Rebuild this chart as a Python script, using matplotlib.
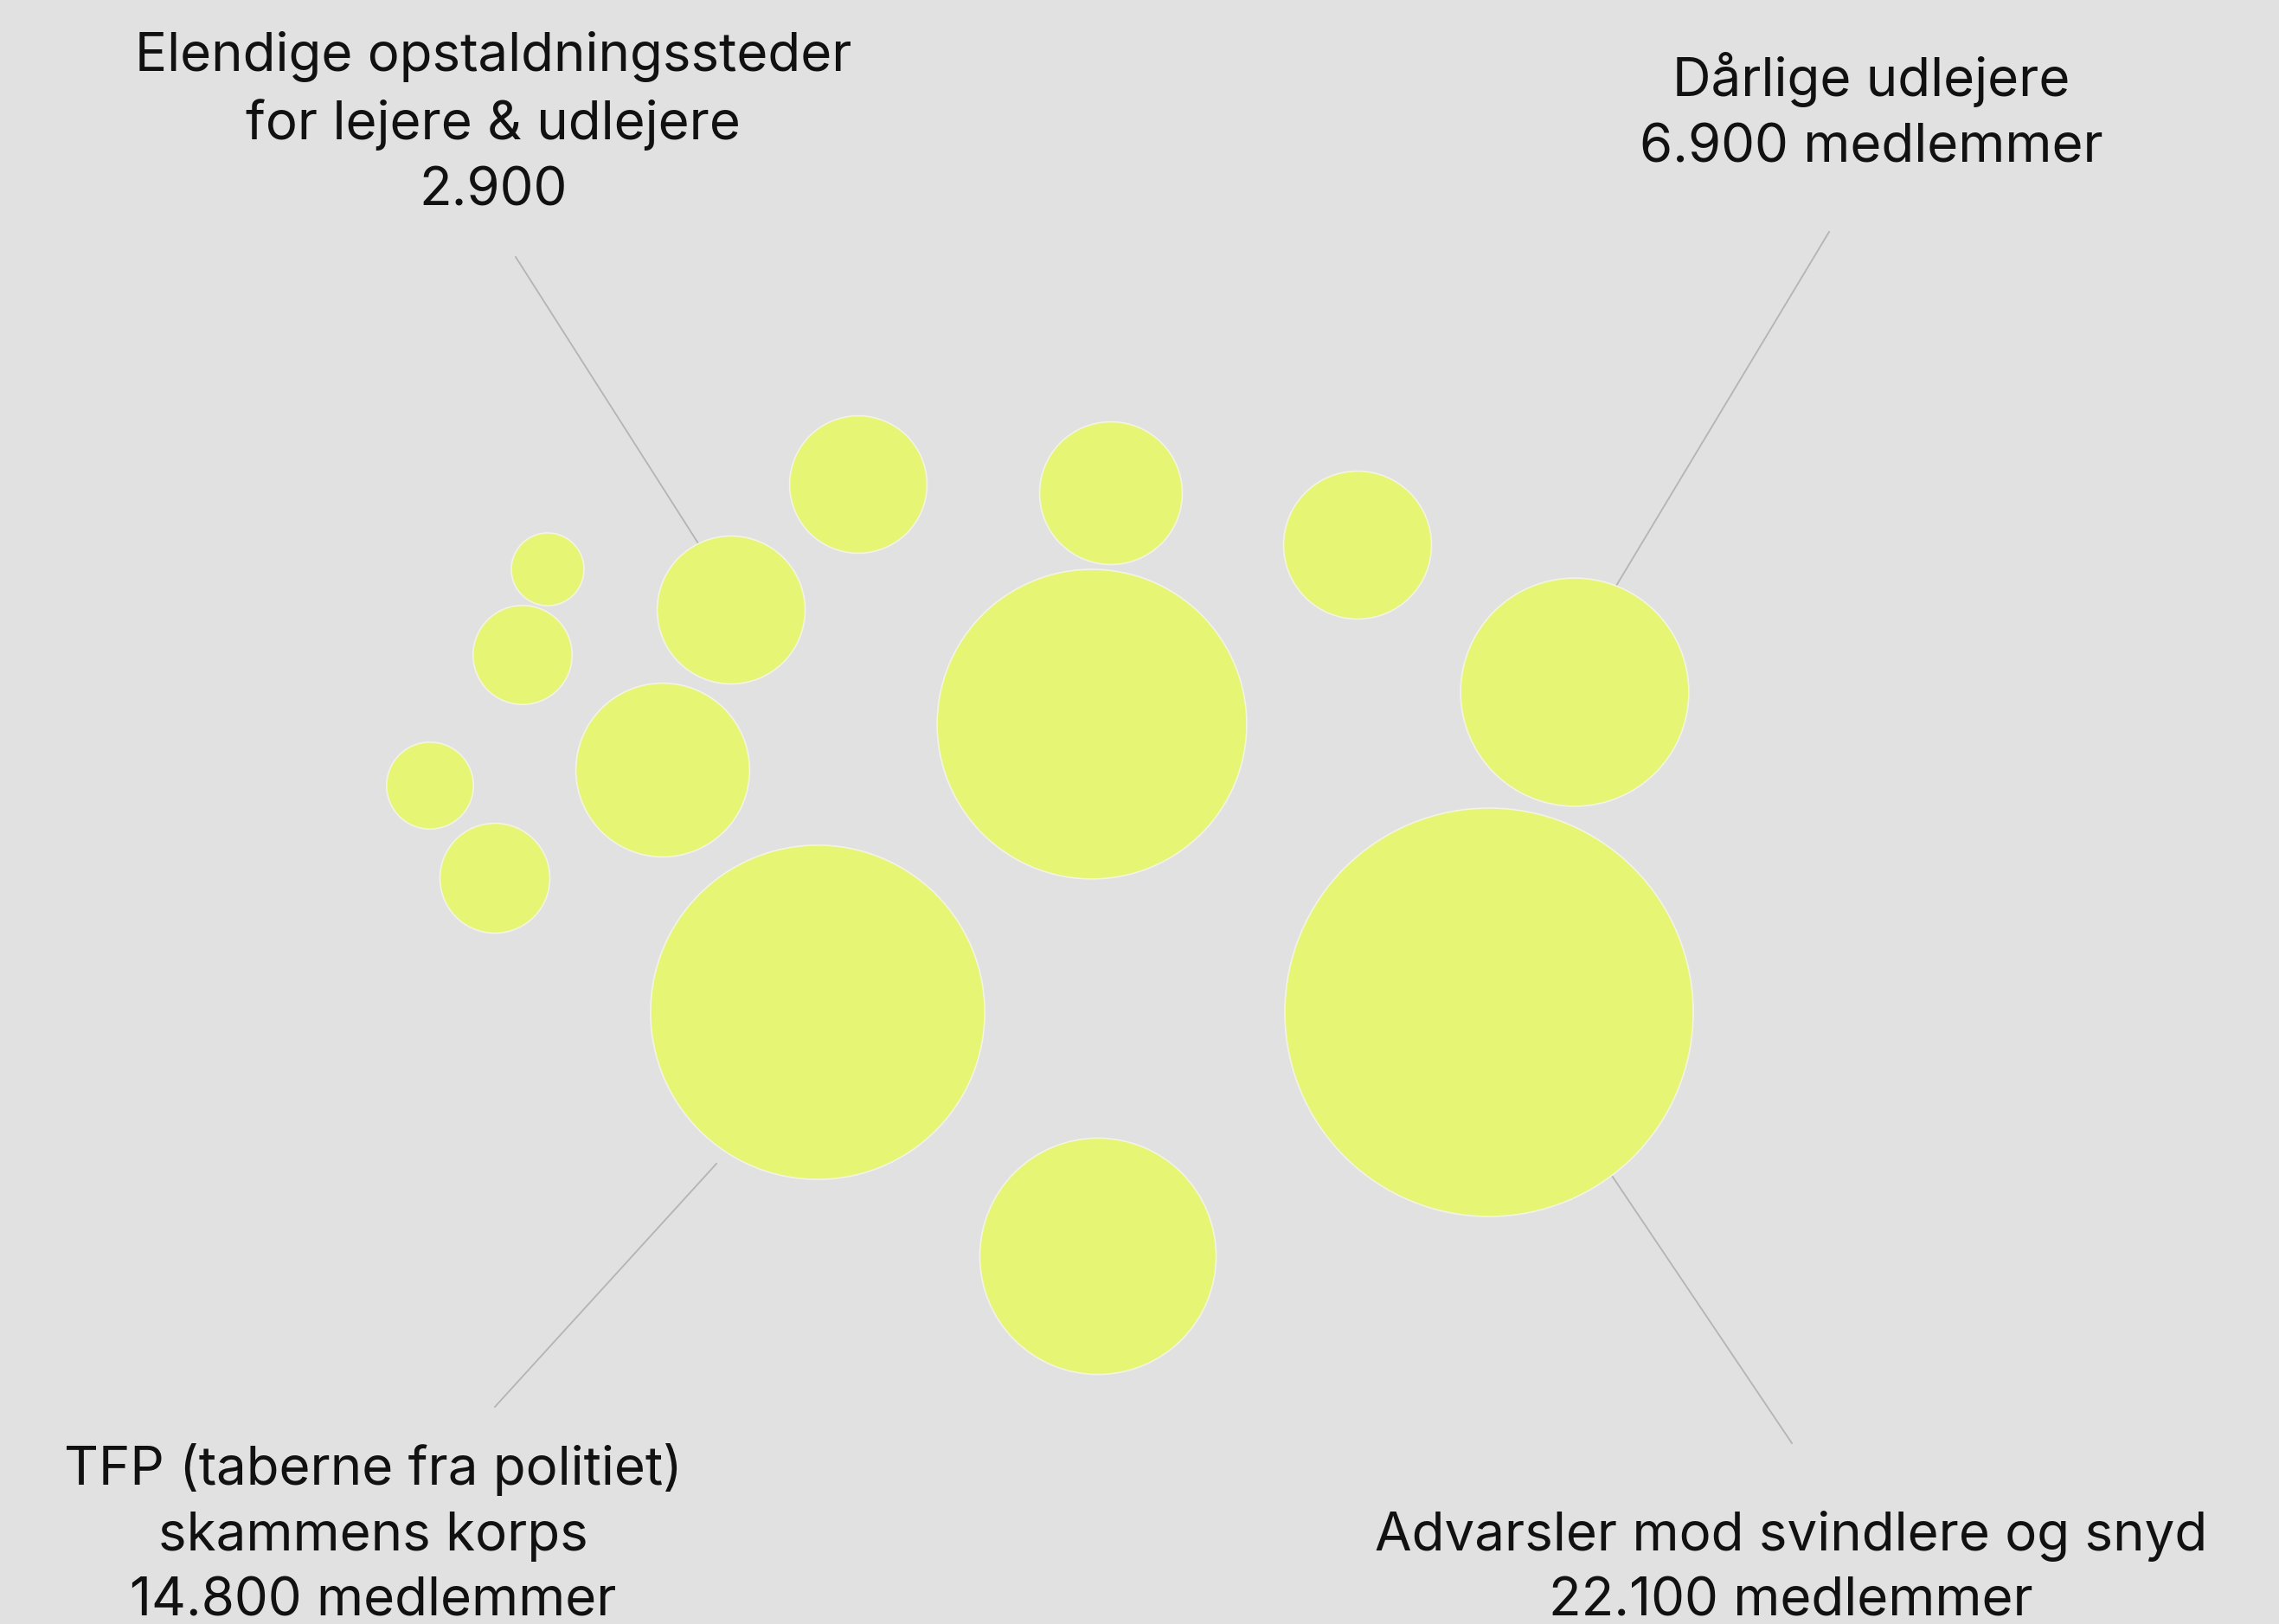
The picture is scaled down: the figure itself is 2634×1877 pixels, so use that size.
import matplotlib.pyplot as plt
from matplotlib.patches import Circle
import numpy as np

# --- data: medlemmer pr. gruppe (areal ~ antal) ---
members = [22100, 14800, 12700, 7400, 6900, 2900, 2900, 2700, 2500,
           4000, 700, 1300, 1000, 1600]

# --- layout (pixel-koordinater i billedet) ---
cx = [1721, 945, 1262, 1269, 1820, 845, 1569, 1284, 992, 766, 633, 604, 497, 572]
cy = [1170, 1170, 837, 1452, 800, 705, 630, 570, 560, 890, 658, 757, 908, 1015]

# --- labels ---
labels = [
    "Elendige opstaldningssteder\nfor lejere & udlejere\n2.900",
    "Dårlige udlejere\n6.900 medlemmer",
    "TFP (taberne fra politiet)\nskammens korps\n14.800 medlemmer",
    "Advarsler mod svindlere og snyd\n22.100 medlemmer",
]
# baseline for sidste linje
label_xy = [(570, 237), (2163, 187), (431, 1868), (2070, 1868)]
leaders = [((596, 297), (807, 628)),
           ((2114, 268), (1868, 677)),
           ((828, 1345), (572, 1626)),
           ((1855, 1347), (2071, 1668))]

W, H = 2634, 1877
BG = '#e1e1e1'
FILL = '#e6f573'

fig = plt.figure(figsize=(W / 100, H / 100), dpi=100, facecolor=BG)
ax = fig.add_axes([0, 0, 1, 1])
ax.set_facecolor(BG)
ax.set_xlim(0, W)
ax.set_ylim(H, 0)
ax.set_aspect('equal')
ax.axis('off')

# radius ud fra største boble (236 px = 22.100)
k = 236 / np.sqrt(max(members))
for x, y, v in zip(cx, cy, members):
    ax.add_patch(Circle((x, y), k * np.sqrt(v), facecolor=FILL,
                        edgecolor='#f4f4e4', lw=1.2, zorder=2))

for (p0, p1) in leaders:
    ax.plot([p0[0], p1[0]], [p0[1], p1[1]], color='#b4b4b4', lw=1.3, zorder=1)

for txt, (x, y) in zip(labels, label_xy):
    ax.text(x, y, txt, ha='center', va='baseline', fontsize=44.5,
            family='Inter', color='#111111', linespacing=1.40, zorder=3,
            multialignment='center')

fig.savefig('out.png', dpi=100, facecolor=BG)
